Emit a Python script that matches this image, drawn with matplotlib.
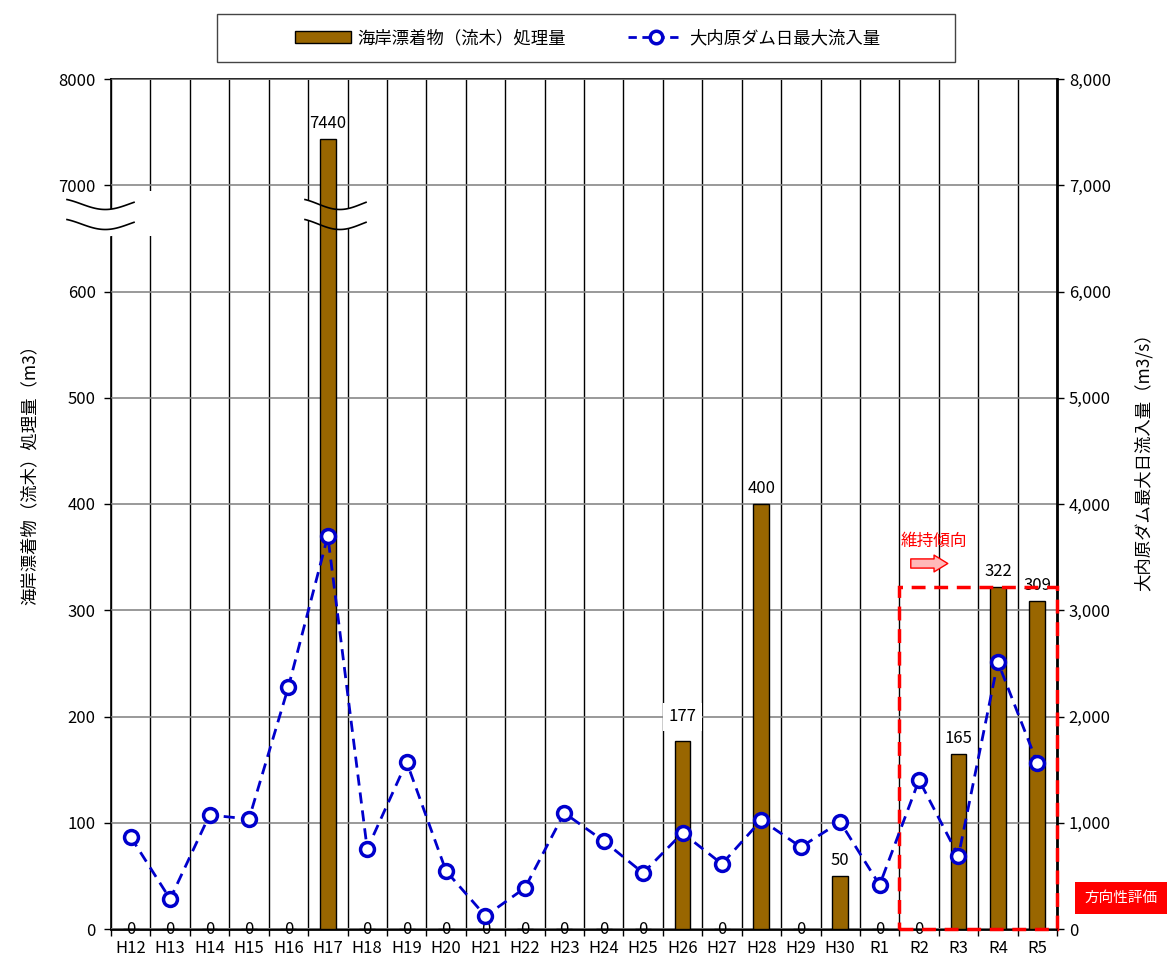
import numpy as np
import matplotlib
matplotlib.use("Agg")
import matplotlib.pyplot as plt
from matplotlib.patches import Rectangle, Polygon, Patch
from matplotlib.lines import Line2D

plt.rcParams['font.family'] = ['Noto Sans CJK JP', 'DejaVu Sans']

years = ['H12', 'H13', 'H14', 'H15', 'H16', 'H17', 'H18', 'H19', 'H20', 'H21',
         'H22', 'H23', 'H24', 'H25', 'H26', 'H27', 'H28', 'H29', 'H30', 'R1',
         'R2', 'R3', 'R4', 'R5']
driftwood = [0, 0, 0, 0, 0, 7440, 0, 0, 0, 0, 0, 0, 0, 0, 177, 0, 400, 0, 50, 0,
             0, 165, 322, 309]
inflow = [866, 282, 1073, 1035, 2278, 3699, 753, 1572, 546, 122, 386, 1092, 828,
          527, 904, 612, 1026, 772, 1007, 414, 1402, 687, 2513, 1562]
left_ticks = [0, 100, 200, 300, 400, 500, 600, 700, 800]
left_ticklabels = ['0', '100', '200', '300', '400', '500', '600', '7000', '8000']

W, H = 1168, 957
def fx(px):
    return px / W
def fy(py):
    return 1 - py / H

# broken axis: above 700 the left scale is 7000-8000
def to_axis(v):
    return v / 10 if v > 700 else v

bar_col = '#996600'
line_col = '#0000CC'

fig = plt.figure(figsize=(W / 100, H / 100), dpi=100)
ax = fig.add_axes([fx(111), fy(929), (1057 - 111) / W, (929 - 79) / H])
x = np.arange(len(years))
heights = [to_axis(v) for v in driftwood]

ax.bar(x, heights, 0.4, color=bar_col, edgecolor='black', linewidth=1, zorder=3)
ax.set_xlim(-0.5, len(years) - 0.5)
ax.set_ylim(0, 800)
ax.set_yticks(left_ticks)
ax.set_yticklabels(left_ticklabels, fontsize=12)
ax.set_xticks(x)
ax.set_xticklabels(years, fontsize=12)
ax.set_xticks(np.arange(len(years) + 1) - 0.5, minor=True)
ax.tick_params(axis='x', which='major', length=0, pad=8)
ax.tick_params(axis='x', which='minor', length=5, width=1)
ax.tick_params(axis='y', length=5, width=1, pad=6)
ax.grid(which='major', axis='y', color='#888888', linewidth=1.2)
ax.grid(which='minor', axis='x', color='black', linewidth=1)
ax.set_axisbelow(False)
for s in ['left', 'top']:
    ax.spines[s].set_linewidth(1.2)
ax.spines['bottom'].set_linewidth(2)
ax.spines['right'].set_visible(False)
ax.set_ylabel('海岸漂着物（流木）処理量（m3）', fontsize=12.5)
ax.yaxis.set_label_coords(-0.077, 0.54)

# data labels
for i, v in enumerate(driftwood):
    if v == 0:
        ax.text(i, 0, '0', ha='center', va='center', fontsize=12, zorder=4)
    elif years[i] == 'H26':
        ax.text(i, 200, str(v), ha='center', va='center', fontsize=12, zorder=4,
                bbox=dict(facecolor='white', edgecolor='none', pad=4))
    else:
        ax.annotate(str(v), (i, heights[i]), xytext=(0, 5), textcoords='offset points',
                    ha='center', va='bottom', fontsize=12, zorder=4)

# break marks (white band between two wavy lines)
def wave(x0, x1, yc, n=60, amp=5.5):
    t = np.linspace(0, 1, n)
    xs = x0 + (x1 - x0) * t
    ys = yc - amp * np.cos(np.pi * (0.2 + 1.4 * t))
    return xs, ys

def white_poly(pts):
    pts = np.asarray(pts, dtype=float)
    ax.add_patch(Polygon(np.column_stack([fx(pts[:, 0]), fy(pts[:, 1])]), closed=True,
                         facecolor='white', edgecolor='none', transform=fig.transFigure,
                         clip_on=False, zorder=2.7))

for x0, x1, extra in [(67, 134, 7), (305, 366, 0)]:
    xa, ya = wave(x0, x1, 204)
    xb, yb = wave(x0, x1, 224)
    white_poly(np.vstack([np.column_stack([xa, ya]),
                          np.column_stack([xb[::-1], yb[::-1] + extra])]))
    for xs, ys in [(xa, ya), (xb, yb)]:
        ax.add_line(Line2D(fx(xs), fy(ys), color='black', lw=1.2,
                           transform=fig.transFigure, clip_on=False, zorder=3.5))
white_poly([(134, 191), (156, 191), (156, 236), (134, 236)])

# right axis
ax2 = ax.twinx()
ax2.set_ylim(0, 8000)
ax2.set_yticks(range(0, 8001, 1000))
ax2.set_yticklabels([f'{v:,}' for v in range(0, 8001, 1000)], fontsize=12)
ax2.tick_params(axis='y', length=5, width=1)
for s in ['left', 'top', 'bottom']:
    ax2.spines[s].set_visible(False)
ax2.spines['right'].set_linewidth(2)
ax2.plot(x, inflow, color=line_col, linewidth=2, dashes=(4, 2.5), marker='o',
         markersize=10, markerfacecolor='white', markeredgecolor=line_col,
         markeredgewidth=2.5, zorder=5)
ax2.set_ylabel('大内原ダム最大日流入量（m3/s）', fontsize=12.5, rotation=90)
ax2.yaxis.set_label_coords(1.082, 0.555)

# evaluation window
ax2.add_patch(Rectangle((19.5, 0), 4, 3220, fill=False, edgecolor='red', lw=2.5,
                        linestyle=(0, (4, 2.5)), clip_on=False, zorder=3))
ax.text(20.38, 365, '維持傾向', color='red', ha='center', va='center', fontsize=12, zorder=6)
ax.annotate('', xy=(20.8, 344), xytext=(19.72, 344),
            arrowprops=dict(arrowstyle='simple,head_length=0.45,head_width=0.55,tail_width=0.3',
                            facecolor='#FFB8B8', edgecolor='red', lw=1, mutation_scale=22),
            zorder=6)
fig.text(fx(1121), fy(898), '方向性評価', color='white', ha='center', va='center',
         fontsize=10.5, bbox=dict(facecolor='red', edgecolor='none', boxstyle='square,pad=0.65'))

# legend
handles = [Patch(facecolor=bar_col, edgecolor='black'),
           Line2D([], [], color=line_col, linewidth=2, dashes=(3, 2), marker='o',
                  markersize=9, markerfacecolor='white', markeredgecolor=line_col,
                  markeredgewidth=2.5)]
labels = ['海岸漂着物（流木）処理量', '大内原ダム日最大流入量']
fig.legend(handles, labels, loc='center', bbox_to_anchor=(fx(588), fy(38)), ncol=2,
           frameon=False, fontsize=12.5, handlelength=3.2, handletextpad=0.35,
           columnspacing=3.6)
fig.add_artist(Rectangle((fx(217), fy(62)), (955 - 217) / W, (62 - 14) / H, fill=False,
                         edgecolor='#444444', lw=1, transform=fig.transFigure))

fig.savefig('out.png', dpi=100)
